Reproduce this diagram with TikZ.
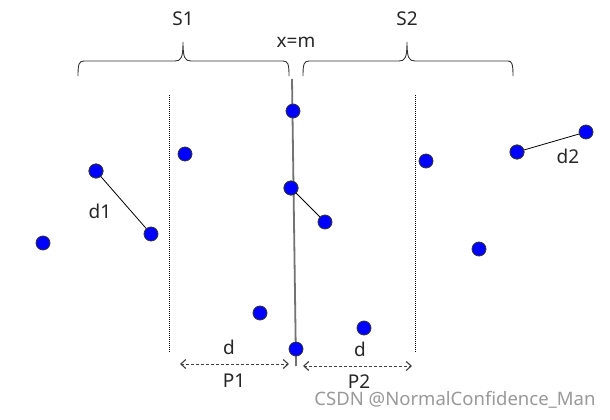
\documentclass[tikz,border=0pt]{standalone}
\usepackage{fontspec}
\setmainfont{Noto Sans}
\usetikzlibrary{arrows.meta}
\begin{document}
\begin{tikzpicture}[x=1pt,y=-1pt,
  pt/.style={circle,draw=black!80,line width=0.8pt,fill=blue,minimum size=14pt,inner sep=0pt},
  lbl/.style={font=\fontsize{19}{21}\selectfont,text=black!85,inner sep=0pt},
  brc/.style={draw=black!80,line width=0.9pt},
  seg/.style={draw=black,line width=0.8pt},
  sep/.style={draw=black,dash pattern=on 0.8pt off 1.2pt,line width=1pt},
  dim/.style={draw=black!75,dash pattern=on 3pt off 2pt,line width=1pt,{Straight Barb[length=5pt,width=9pt,line width=1.1pt]}-{Straight Barb[length=5pt,width=9pt,line width=1.1pt]}}]
\useasboundingbox (0,0) rectangle (610,420);
\fill[white] (0,0) rectangle (610,420);
% braces
\draw[brc] (78,76) .. controls (78,64) and (79,61) .. (84,61) -- (175,61)
  .. controls (181,61) and (183,58) .. (183,42)
  .. controls (183,58) and (185,61) .. (191,61) -- (283,61)
  .. controls (288,61) and (289,64) .. (289,76);
\draw[brc] (303,76) .. controls (303,64) and (304,61) .. (309,61) -- (399,61)
  .. controls (405,61) and (407,58) .. (407,42)
  .. controls (407,58) and (409,61) .. (415,61) -- (508,61)
  .. controls (512,61) and (513,64) .. (513,76);
\node[lbl] (s1) at (183,19) {S1};
\node[lbl] (s2) at (407,19) {S2};
\node[lbl] (xm) at (296,42) {x=m};
% separator lines
\coordinate (lt) at (169,95); \coordinate (lb) at (169,352);
\coordinate (rt) at (415,95); \coordinate (rb) at (415,352);
\draw[sep] (lt) -- (lb);
\draw[sep] (rt) -- (rb);
\coordinate (mt) at (292,79); \coordinate (mb) at (296,366);
\draw[draw=black!55,line width=1.8pt] (mt) -- (mb);
% segments
\node[pt] (a) at (96,171) {};
\node[pt] (b) at (151,234) {};
\node[pt] (c) at (517,152) {};
\node[pt] (e) at (586,132) {};
\node[pt] (f) at (291,188) {};
\node[pt] (g) at (325,222) {};
\draw[seg] (a.center) -- (b);
\draw[seg] (c.center) -- (e);
\draw[seg] (f.center) -- (g);
\node[pt] at (96,171) {};
\node[pt] at (517,152) {};
\node[pt] at (291,188) {};
\node[pt] (p1) at (43,243) {};
\node[pt] (p2) at (185,154) {};
\node[pt] (p3) at (260,313) {};
\node[pt] (p4) at (293,111) {};
\node[pt] (p5) at (296,349) {};
\node[pt] (p6) at (364,328) {};
\node[pt] (p7) at (426,161) {};
\node[pt] (p8) at (479,249) {};
\node[lbl] (d1) at (100,211) {d1};
\node[lbl] (d2) at (568,156) {d2};
% dimension arrows
\coordinate (al) at (180,364); \coordinate (ar) at (289,364);
\coordinate (bl) at (303,366); \coordinate (br) at (412,366);
\draw[dim] (al) -- (ar);
\draw[dim] (bl) -- (br);
\node[lbl] (dl) at (229,347) {d};
\node[lbl] (dr) at (360,349) {d};
\node[lbl] (P1) at (234,381) {P1};
\node[lbl] (P2) at (359,382) {P2};
\node[font=\fontsize{18.5}{20}\selectfont,text=black!40,inner sep=0pt] (wm) at (455,400) {CSDN @NormalConfidence\_Man};
\end{tikzpicture}
\end{document}
